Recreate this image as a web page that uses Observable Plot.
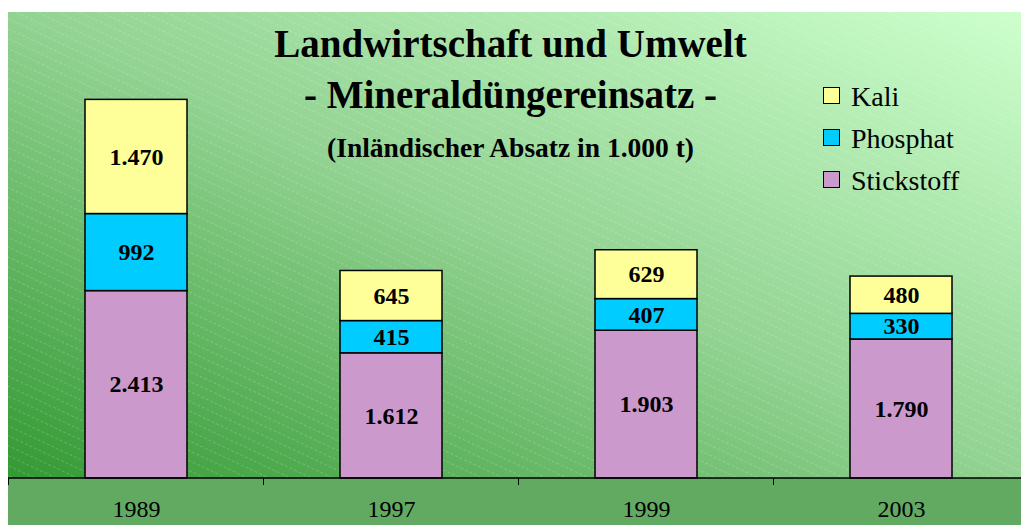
<!DOCTYPE html>
<html><head><meta charset="utf-8">
<script src="https://cdn.jsdelivr.net/npm/d3@7"></script>
<script src="https://cdn.jsdelivr.net/npm/@observablehq/plot@0.6"></script>
<style>
body{margin:0;background:#fff;}
#wrap{position:relative;width:1021px;height:525px;overflow:hidden;font-family:"Liberation Serif","Times New Roman",serif;}
.t{position:absolute;left:0;width:1021px;text-align:center;font-weight:bold;color:#000;line-height:1;white-space:nowrap;}
.lg{position:absolute;left:823px;font-size:28px;line-height:1;color:#000;white-space:nowrap;}
.lg span.sw{position:absolute;left:0;width:15px;height:15px;border:1.5px solid #000;}
.lg span.tx{position:absolute;left:28px;}
</style></head><body><div id="wrap"></div>
<script>
const years = ["1989", "1997", "1999", "2003"];
const series = ["Stickstoff", "Phosphat", "Kali"];
const stickstoff = [2413, 1612, 1903, 1790];
const phosphat = [992, 415, 407, 330];
const kali = [1470, 645, 629, 480];
const colors = ["#CC99CC", "#00CCFF", "#FFFF99"];
const titleLines = ["Landwirtschaft und Umwelt", "- Mineraldüngereinsatz -", "(Inländischer Absatz in 1.000 t)"];

const values = {Stickstoff: stickstoff, Phosphat: phosphat, Kali: kali};
const data = series.flatMap(s => years.map((y, i) => ({year: y, series: s, value: values[s][i]})));
const de = d3.formatLocale({decimal: ",", thousands: ".", grouping: [3], currency: ["", " €"]});
const fmt = de.format(",d");

function background(index, scales, vals, dim) {
  const g = d3.create("svg:g");
  const defs = g.append("defs");
  const x0 = dim.marginLeft, y0 = dim.marginTop;
  const x1 = dim.width - dim.marginRight, y1 = dim.height - dim.marginBottom;
  const lg = defs.append("linearGradient").attr("id", "bgGrad")
    .attr("x1", 0).attr("y1", 1).attr("x2", 1).attr("y2", 0);
  lg.append("stop").attr("offset", 0).attr("stop-color", "#339933");
  lg.append("stop").attr("offset", 0.5).attr("stop-color", "#92d292");
  lg.append("stop").attr("offset", 1).attr("stop-color", "#ccffcc");
  const pat = defs.append("pattern").attr("id", "hatch")
    .attr("patternUnits", "userSpaceOnUse").attr("width", 20).attr("height", 9)
    .attr("patternTransform", "rotate(25)");
  pat.append("line").attr("x1", 0).attr("y1", 4.5).attr("x2", 20).attr("y2", 4.5)
    .attr("stroke", "#ffffff").attr("stroke-opacity", 0.18).attr("stroke-width", 1)
    .attr("stroke-dasharray", "3,2");
  g.append("rect").attr("x", x0).attr("y", y0).attr("width", x1 - x0).attr("height", y1 - y0).attr("fill", "url(#bgGrad)");
  g.append("rect").attr("x", x0).attr("y", y0).attr("width", x1 - x0).attr("height", y1 - y0).attr("fill", "url(#hatch)");
  g.append("rect").attr("x", x0).attr("y", y1).attr("width", x1 - x0).attr("height", dim.height - y1).attr("fill", "#62aa62");
  return g.node();
}

function axisLine(index, scales, vals, dim) {
  const g = d3.create("svg:g");
  const x = scales.x;
  const bw = x.bandwidth();
  const step = x.step ? x.step() : bw / 0.4;
  const yb = dim.height - dim.marginBottom;
  g.append("line").attr("x1", dim.marginLeft).attr("x2", dim.width).attr("y1", yb).attr("y2", yb)
    .attr("stroke", "#000").attr("stroke-width", 1.5);
  years.forEach(d => {
    const bx = x(d) + bw / 2 - step / 2;
    g.append("line").attr("x1", bx).attr("x2", bx).attr("y1", yb).attr("y2", yb + 7)
      .attr("stroke", "#000").attr("stroke-width", 1);
  });
  return g.node();
}

const chart = Plot.plot({
  width: 1021,
  height: 525,
  marginLeft: 8,
  marginRight: 0,
  marginTop: 12,
  marginBottom: 47,
  style: {fontFamily: "Liberation Serif, Times New Roman, serif", fontSize: "24px", background: "transparent", overflow: "visible"},
  x: {domain: years, range: [8, 1028], paddingInner: 0.6, paddingOuter: 0.3, label: null},
  y: {domain: [0, 6000], axis: null},
  color: {domain: series, range: colors},
  marks: [
    background,
    Plot.barY(data, Plot.stackY({x: "year", y: "value", fill: "series", order: series, stroke: "#000", strokeWidth: 1.5})),
    Plot.text(data, Plot.stackY({x: "year", y: "value", z: "series", order: series, text: d => fmt(d.value), fontWeight: "bold", fontSize: 24, fill: "#000"})),
    axisLine,
    Plot.axisX({tickSize: 0, tickPadding: 21, fontSize: 24, fill: "#000", label: null})
  ]
});

const wrap = document.getElementById("wrap");
wrap.appendChild(chart);

const titleSpecs = [{size: 39, base: 57}, {size: 39, base: 108}, {size: 27.5, base: 157}];
titleLines.forEach((txt, i) => {
  const d = document.createElement("div");
  d.className = "t";
  d.textContent = txt;
  const s = titleSpecs[i];
  d.style.fontSize = s.size + "px";
  d.style.top = (s.base - 0.8375 * s.size) + "px";
  wrap.appendChild(d);
});

const legendOrder = ["Kali", "Phosphat", "Stickstoff"];
const legendTops = [87, 129, 171];
legendOrder.forEach((s, i) => {
  const item = document.createElement("div");
  item.className = "lg";
  item.style.top = legendTops[i] + "px";
  const sw = document.createElement("span");
  sw.className = "sw";
  sw.style.background = colors[series.indexOf(s)];
  const tx = document.createElement("span");
  tx.className = "tx";
  tx.textContent = s;
  tx.style.top = "-4px";
  item.appendChild(sw);
  item.appendChild(tx);
  wrap.appendChild(item);
});
</script>
</body></html>
